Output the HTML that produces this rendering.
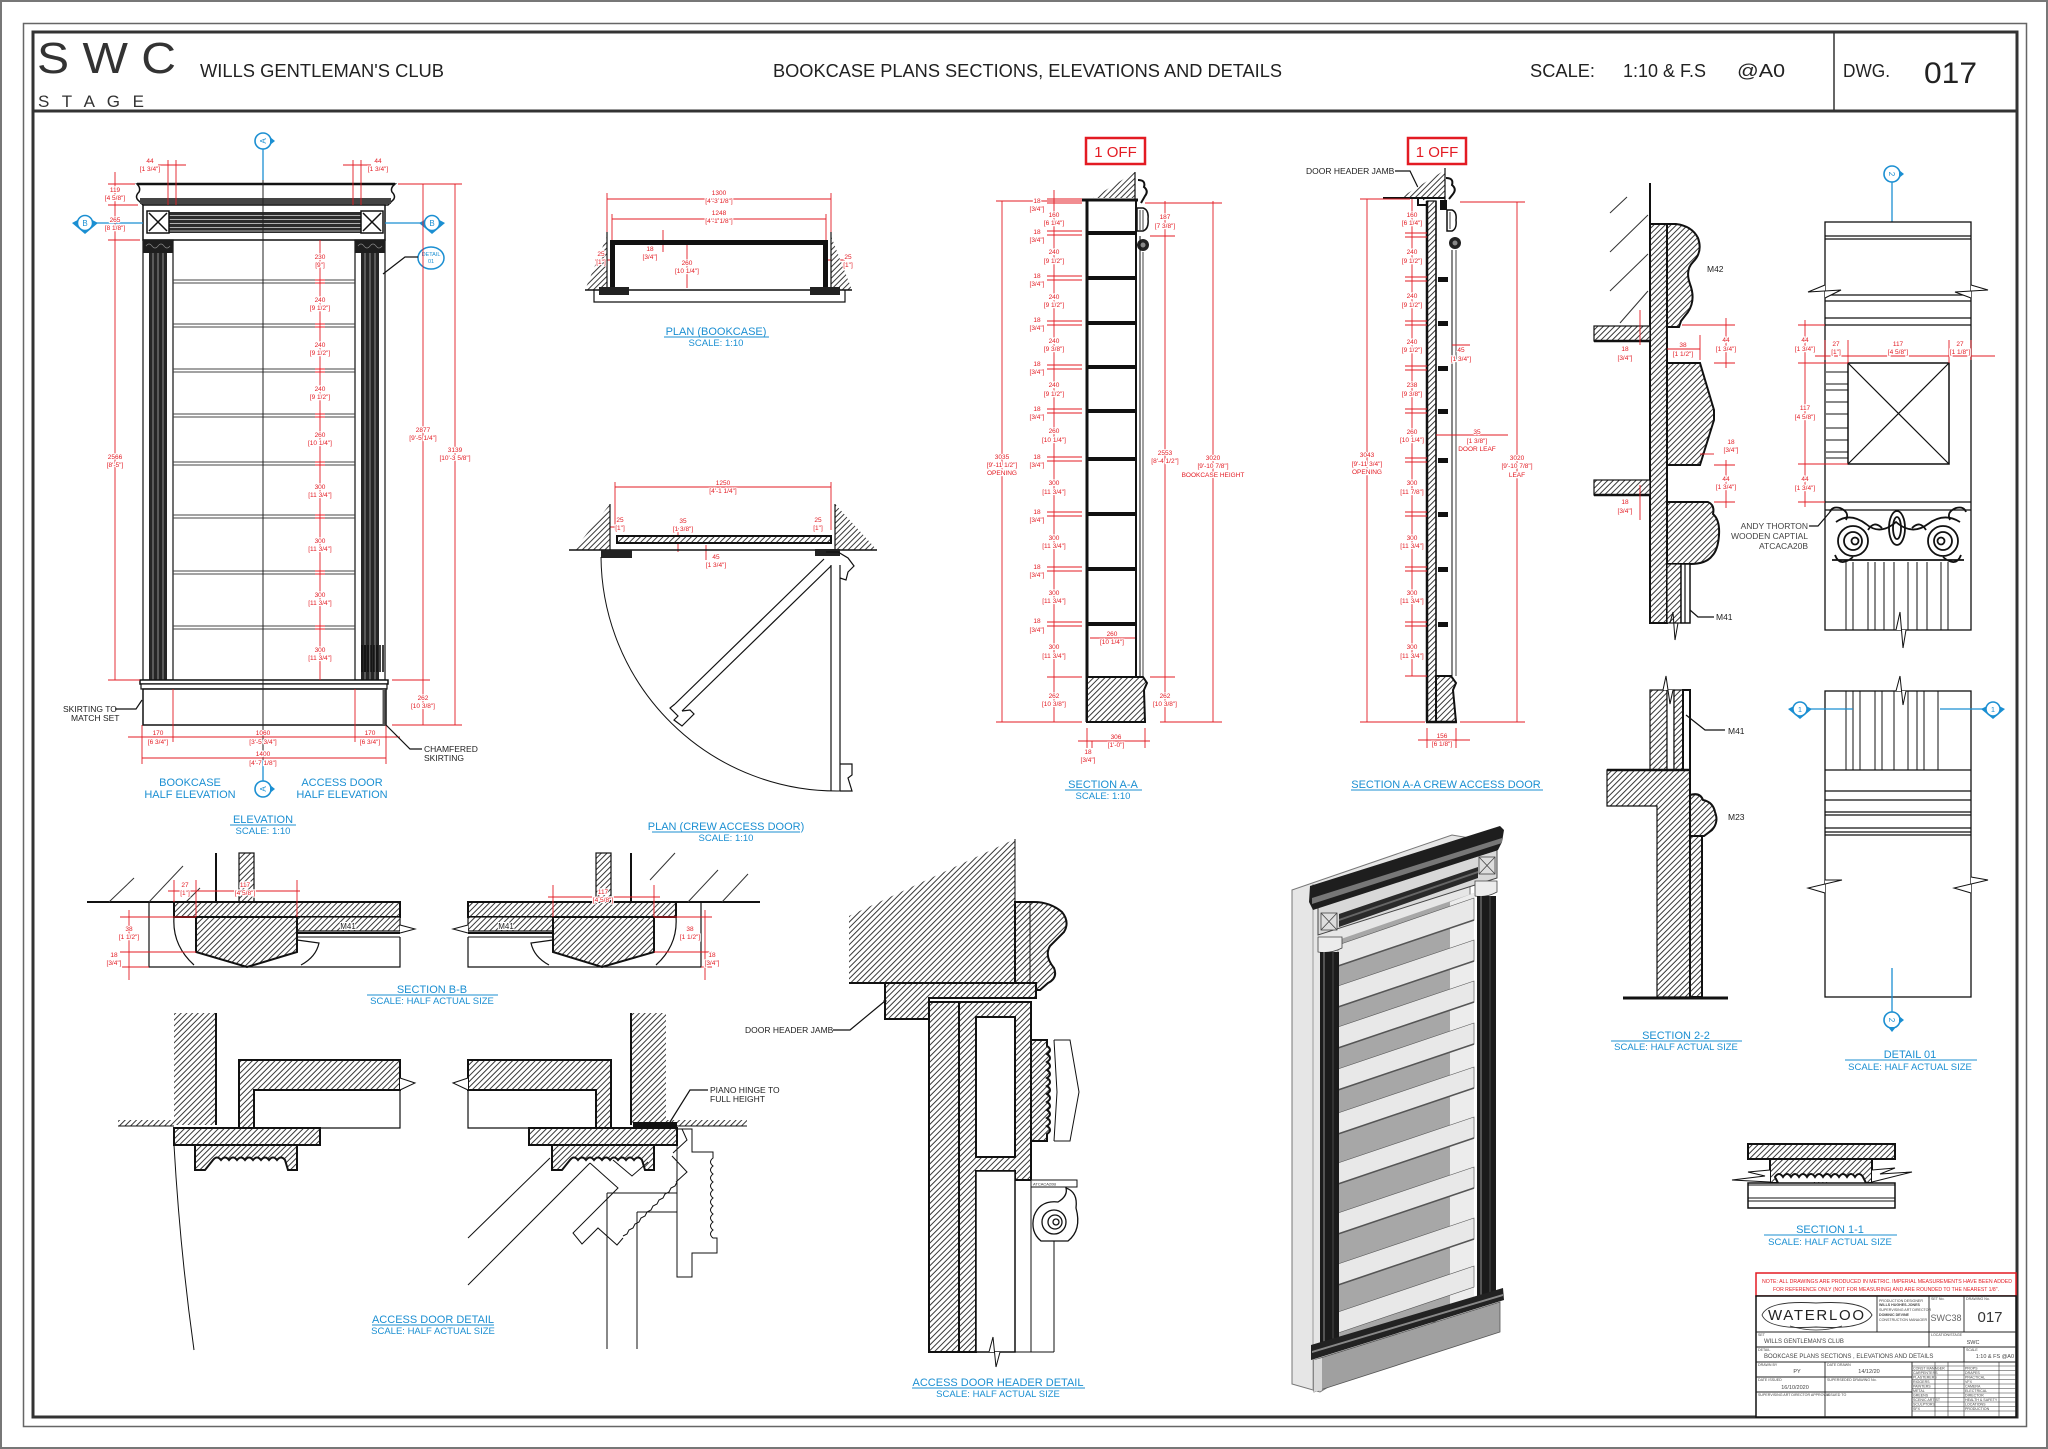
<!DOCTYPE html>
<html><head><meta charset="utf-8">
<style>
html,body{margin:0;padding:0;background:#fff;}
svg{display:block;}
text{font-family:"Liberation Sans",Arial,sans-serif;}
.r{fill:#e31b23;font-size:6.5px;text-anchor:middle;stroke:#fff;stroke-width:2.2px;paint-order:stroke;}
.rl line,.rl path{stroke:#e31b23;stroke-width:0.9;fill:none;}
.b{fill:#1b8fd2;font-size:11px;text-anchor:middle;}
.bs{fill:#1b8fd2;font-size:9.5px;text-anchor:middle;}
.t{fill:#222;font-size:8.5px;}
.hat{fill:url(#h);stroke:#111;stroke-width:2;}
.hat1{fill:url(#h);stroke:#111;stroke-width:1.2;}
.k{stroke:#111;fill:none;stroke-width:1.2;}
.k2{stroke:#111;fill:none;stroke-width:2;}
.bl{stroke:#1b8fd2;stroke-width:1.3;fill:none;}
.ul{stroke:#1b8fd2;stroke-width:1;}
.tb{fill:#444;font-size:3.6px;}
</style></head><body>
<svg width="2048" height="1449" viewBox="0 0 2048 1449" xmlns="http://www.w3.org/2000/svg">
<defs>
<pattern id="h" width="4" height="4" patternUnits="userSpaceOnUse" patternTransform="rotate(45)"><rect width="4" height="4" fill="#fff"/><line x1="0.5" y1="0" x2="0.5" y2="4" stroke="#222" stroke-width="0.9"/></pattern>
<path id="mold" d="M195,1145 H297 V1170 H288 L285,1160 q-4,-5 -8,0 q-4,-5 -8,0 q-4,-5 -8,0 q-4,-5 -8,0 q-4,-5 -8,0 q-4,-5 -8,0 q-4,-5 -8,0 q-4,-5 -8,0 q-4,-5 -8,0 L205,1170 H195 Z"/>
</defs>

<!-- FRAME -->
<rect x="1" y="1" width="2046" height="1447" fill="none" stroke="#777" stroke-width="2"/>
<rect x="23.5" y="23.5" width="2003" height="1403" fill="none" stroke="#666" stroke-width="1.5"/>
<rect x="33" y="32" width="1984" height="1385" fill="none" stroke="#333" stroke-width="3"/>
<line x1="33" y1="111" x2="2017" y2="111" stroke="#333" stroke-width="3"/>
<line x1="1834" y1="32" x2="1834" y2="111" stroke="#333" stroke-width="1.5"/>
<text x="37" y="73" font-size="44" fill="#333" textLength="139" lengthAdjust="spacingAndGlyphs">S W C</text>
<text x="38" y="107" font-size="17" fill="#333" textLength="106" lengthAdjust="spacing">S T A G E</text>
<text x="200" y="77" font-size="18" fill="#222" textLength="244" lengthAdjust="spacingAndGlyphs">WILLS GENTLEMAN'S CLUB</text>
<text x="773" y="77" font-size="18" fill="#222" textLength="509" lengthAdjust="spacingAndGlyphs">BOOKCASE PLANS SECTIONS, ELEVATIONS AND DETAILS</text>
<text x="1530" y="77" font-size="18" fill="#222" textLength="65" lengthAdjust="spacingAndGlyphs">SCALE:</text>
<text x="1623" y="77" font-size="18" fill="#222" textLength="83" lengthAdjust="spacingAndGlyphs">1:10 &amp; F.S</text>
<text x="1737" y="77" font-size="18" fill="#222" textLength="48" lengthAdjust="spacingAndGlyphs">@A0</text>
<text x="1843" y="77" font-size="18" fill="#222" textLength="47" lengthAdjust="spacingAndGlyphs">DWG.</text>
<text x="1924" y="83" font-size="30" fill="#222" textLength="53" lengthAdjust="spacingAndGlyphs">017</text>

<!-- ================= ELEVATION ================= -->
<path d="M137,184 H395 Q390,188 392,192 Q397,197 392,201 L388,205 H143 L139,201 Q134,197 139,192 Q141,188 137,184 Z" fill="#fff" stroke="#111" stroke-width="1.5"/>
<rect x="140" y="198" width="251" height="6" fill="#444"/>
<line x1="137" y1="184" x2="395" y2="184" stroke="#111" stroke-width="2.5"/>
<rect x="143" y="205" width="242" height="35" fill="#fff" stroke="#111" stroke-width="1.5"/>
<rect x="169" y="212" width="192" height="21" fill="#2b2b2b"/>
<g stroke="#ddd" stroke-width="0.7"><line x1="169" y1="215.5" x2="361" y2="215.5"/><line x1="169" y1="219.5" x2="361" y2="219.5"/><line x1="169" y1="223.5" x2="361" y2="223.5"/><line x1="169" y1="227.5" x2="361" y2="227.5"/><line x1="169" y1="231" x2="361" y2="231"/></g>
<rect x="147" y="211" width="22" height="22" fill="#fff" stroke="#111" stroke-width="1.5"/>
<path d="M149,213 L167,231 M167,213 L149,231" stroke="#111" stroke-width="1.5"/>
<rect x="361" y="211" width="22" height="22" fill="#fff" stroke="#111" stroke-width="1.5"/>
<path d="M363,213 L381,231 M381,213 L363,231" stroke="#111" stroke-width="1.5"/>
<!-- pilasters -->
<rect x="143" y="240" width="30" height="440" fill="#fff" stroke="#111" stroke-width="1.2"/>
<rect x="149" y="253" width="18" height="427" fill="#262626"/>
<g stroke="#bbb" stroke-width="0.7"><line x1="153" y1="253" x2="153" y2="680"/><line x1="158" y1="253" x2="158" y2="680"/><line x1="163" y1="253" x2="163" y2="680"/></g>
<rect x="143" y="240" width="30" height="13" fill="#1e1e1e"/>
<path d="M146,246 q3,-4 6,0 q3,4 6,0 q3,-4 6,0 q3,4 6,0" stroke="#888" stroke-width="0.7" fill="none"/>
<rect x="355" y="240" width="30" height="440" fill="#fff" stroke="#111" stroke-width="1.2"/>
<rect x="361" y="253" width="18" height="427" fill="#262626"/>
<g stroke="#bbb" stroke-width="0.7"><line x1="365" y1="253" x2="365" y2="680"/><line x1="370" y1="253" x2="370" y2="680"/><line x1="375" y1="253" x2="375" y2="680"/></g>
<rect x="355" y="240" width="30" height="13" fill="#1e1e1e"/>
<path d="M358,246 q3,-4 6,0 q3,4 6,0 q3,-4 6,0 q3,4 6,0" stroke="#888" stroke-width="0.7" fill="none"/>
<g stroke="#111" stroke-width="1.6"><line x1="362" y1="645" x2="362" y2="672"/><line x1="365" y1="645" x2="365" y2="672"/><line x1="368" y1="645" x2="368" y2="672"/><line x1="371" y1="645" x2="371" y2="672"/><line x1="374" y1="645" x2="374" y2="672"/><line x1="377" y1="645" x2="377" y2="672"/><line x1="380" y1="645" x2="380" y2="672"/><line x1="383" y1="645" x2="383" y2="672"/></g>
<!-- shelves -->
<g stroke="#444" stroke-width="1"><line x1="173" y1="280" x2="355" y2="280"/><line x1="173" y1="283" x2="355" y2="283"/><line x1="173" y1="324" x2="355" y2="324"/><line x1="173" y1="327" x2="355" y2="327"/><line x1="173" y1="369" x2="355" y2="369"/><line x1="173" y1="372" x2="355" y2="372"/><line x1="173" y1="414" x2="355" y2="414"/><line x1="173" y1="417" x2="355" y2="417"/><line x1="173" y1="462" x2="355" y2="462"/><line x1="173" y1="465" x2="355" y2="465"/><line x1="173" y1="515" x2="355" y2="515"/><line x1="173" y1="518" x2="355" y2="518"/><line x1="173" y1="571" x2="355" y2="571"/><line x1="173" y1="574" x2="355" y2="574"/><line x1="173" y1="626" x2="355" y2="626"/><line x1="173" y1="629" x2="355" y2="629"/></g>
<!-- base -->
<rect x="140" y="680" width="248" height="4" fill="#fff" stroke="#111" stroke-width="1.5"/>
<rect x="141" y="684" width="246" height="5" fill="#fff" stroke="#111" stroke-width="1.2"/>
<rect x="143" y="689" width="243" height="36" fill="#fff" stroke="#111" stroke-width="1.5"/>
<line x1="384" y1="689" x2="384" y2="725" stroke="#555" stroke-width="3"/>
<!-- axis -->
<line x1="263" y1="149" x2="263" y2="781" stroke="#222" stroke-width="1"/>
<line x1="263" y1="149" x2="263" y2="180" stroke="#1b8fd2" stroke-width="1.3"/>
<line x1="263" y1="760" x2="263" y2="781" stroke="#1b8fd2" stroke-width="1.3"/>
<g transform="translate(263,141)"><circle r="8" fill="#fff" stroke="#1b8fd2" stroke-width="1.6"/><path d="M7,-4 L12,0 L7,4z" fill="#1b8fd2"/><text y="3" font-size="8" text-anchor="middle" fill="#1b8fd2" transform="rotate(-90)">A</text></g>
<g transform="translate(263,789)"><circle r="8" fill="#fff" stroke="#1b8fd2" stroke-width="1.6"/><path d="M7,-4 L12,0 L7,4z" fill="#1b8fd2"/><text y="3" font-size="8" text-anchor="middle" fill="#1b8fd2" transform="rotate(-90)">A</text></g>
<line x1="93" y1="223" x2="143" y2="223" class="bl"/>
<line x1="385" y1="223" x2="424" y2="223" class="bl"/>
<g transform="translate(85,223)"><path d="M-13,0 L0,-7 L13,0 L0,11 Z" fill="#1b8fd2"/><circle r="7.5" fill="#fff" stroke="#1b8fd2" stroke-width="1.5"/><text y="3" font-size="8" text-anchor="middle" fill="#1b8fd2">B</text></g>
<g transform="translate(432,223)"><path d="M-13,0 L0,-7 L13,0 L0,11 Z" fill="#1b8fd2"/><circle r="7.5" fill="#fff" stroke="#1b8fd2" stroke-width="1.5"/><text y="3" font-size="8" text-anchor="middle" fill="#1b8fd2">B</text></g>
<ellipse cx="431" cy="258" rx="13" ry="11" fill="#fff" stroke="#1b8fd2" stroke-width="1.5"/>
<text x="431" y="256" font-size="5.5" text-anchor="middle" fill="#1b8fd2">DETAIL</text>
<text x="431" y="263" font-size="5.5" text-anchor="middle" fill="#1b8fd2">01</text>
<path d="M383,274 L405,257 L418,257" class="k"/>
<g class="rl">
<line x1="168" y1="160" x2="168" y2="205"/><line x1="176" y1="160" x2="176" y2="205"/><line x1="158" y1="165" x2="186" y2="165"/>
<line x1="353" y1="160" x2="353" y2="205"/><line x1="361" y1="160" x2="361" y2="205"/><line x1="343" y1="165" x2="371" y2="165"/>
<line x1="115" y1="172" x2="115" y2="680"/><line x1="108" y1="184" x2="135" y2="184"/><line x1="108" y1="205" x2="138" y2="205"/><line x1="108" y1="240" x2="140" y2="240"/><line x1="108" y1="680" x2="140" y2="680"/>
<line x1="398" y1="184" x2="462" y2="184"/><line x1="423" y1="184" x2="423" y2="725"/><line x1="455" y1="184" x2="455" y2="725"/><line x1="392" y1="680" x2="430" y2="680"/><line x1="392" y1="725" x2="462" y2="725"/>
<line x1="320" y1="240" x2="320" y2="680"/>
<path d="M315,280h10M315,283h10M315,324h10M315,327h10M315,369h10M315,372h10M315,414h10M315,417h10M315,462h10M315,465h10M315,515h10M315,518h10M315,571h10M315,574h10M315,626h10M315,629h10"/>
<line x1="142" y1="725" x2="142" y2="764"/><line x1="386" y1="725" x2="386" y2="764"/><line x1="173" y1="689" x2="173" y2="742"/><line x1="355" y1="689" x2="355" y2="742"/>
<line x1="128" y1="737" x2="400" y2="737"/><line x1="142" y1="758" x2="386" y2="758"/>
</g>
<g class="r">
<text x="150" y="163">44</text><text x="150" y="171">[1 3/4"]</text>
<text x="378" y="163">44</text><text x="378" y="171">[1 3/4"]</text>
<text x="115" y="192">119</text><text x="115" y="200">[4 5/8"]</text>
<text x="115" y="222">265</text><text x="115" y="230">[8 1/8"]</text>
<text x="115" y="459">2566</text><text x="115" y="467">[8'-5"]</text>
<text x="423" y="432">2877</text><text x="423" y="440">[9'-5 1/4"]</text>
<text x="455" y="452">3139</text><text x="455" y="460">[10'-3 5/8"]</text>
<text x="423" y="700">262</text><text x="423" y="708">[10 3/8"]</text>
<text x="320" y="259">230</text><text x="320" y="267">[9"]</text>
<text x="320" y="302">240</text><text x="320" y="310">[9 1/2"]</text>
<text x="320" y="347">240</text><text x="320" y="355">[9 1/2"]</text>
<text x="320" y="391">240</text><text x="320" y="399">[9 1/2"]</text>
<text x="320" y="437">260</text><text x="320" y="445">[10 1/4"]</text>
<text x="320" y="489">300</text><text x="320" y="497">[11 3/4"]</text>
<text x="320" y="543">300</text><text x="320" y="551">[11 3/4"]</text>
<text x="320" y="597">300</text><text x="320" y="605">[11 3/4"]</text>
<text x="320" y="652">300</text><text x="320" y="660">[11 3/4"]</text>
<text x="158" y="735">170</text><text x="158" y="744">[6 3/4"]</text>
<text x="263" y="735">1060</text><text x="263" y="744">[3'-5 3/4"]</text>
<text x="370" y="735">170</text><text x="370" y="744">[6 3/4"]</text>
<text x="263" y="756">1400</text><text x="263" y="765">[4'-7 1/8"]</text>
</g>
<text class="t" x="63" y="712">SKIRTING TO</text><text class="t" x="71" y="721">MATCH SET</text>
<path d="M115,709 L136,709 L142,700" class="k"/>
<text class="t" x="424" y="752">CHAMFERED</text><text class="t" x="424" y="761">SKIRTING</text>
<path d="M386,725 L410,749 L422,749" class="k"/>
<text class="b" x="190" y="786">BOOKCASE</text><text class="b" x="190" y="798">HALF ELEVATION</text>
<text class="b" x="342" y="786">ACCESS DOOR</text><text class="b" x="342" y="798">HALF ELEVATION</text>
<text class="b" x="263" y="823">ELEVATION</text><line x1="230" y1="825" x2="296" y2="825" class="ul"/>
<text class="bs" x="263" y="834">SCALE: 1:10</text>

<!-- ================= PLAN (BOOKCASE) ================= -->
<g class="rl">
<line x1="607" y1="199" x2="831" y2="199"/><line x1="612" y1="219" x2="826" y2="219"/>
<line x1="607" y1="193" x2="607" y2="236"/><line x1="831" y1="193" x2="831" y2="236"/>
<line x1="612" y1="214" x2="612" y2="240"/><line x1="826" y1="214" x2="826" y2="240"/>
<line x1="663" y1="230" x2="663" y2="252"/><line x1="687" y1="245" x2="687" y2="288"/>
<line x1="595" y1="260" x2="612" y2="260"/><line x1="826" y1="260" x2="845" y2="260"/>
</g>
<polygon points="585,290 607,290 607,236" fill="url(#h)"/>
<polygon points="831,236 831,290 852,290" fill="url(#h)"/>
<line x1="607" y1="232" x2="607" y2="290" class="k"/><line x1="831" y1="232" x2="831" y2="290" class="k"/>
<path d="M612.5,290 V242.5 H825.5 V290" fill="none" stroke="#111" stroke-width="5"/>
<line x1="585" y1="290" x2="852" y2="290" stroke="#111" stroke-width="1.5"/>
<rect x="599" y="287" width="30" height="8" fill="#222"/><rect x="810" y="287" width="30" height="8" fill="#222"/>
<path d="M594,290 V302 H845 V290" class="k"/>
<g class="r">
<text x="719" y="195">1300</text><text x="719" y="203">[4'-3 1/8"]</text>
<text x="719" y="215">1248</text><text x="719" y="223">[4'-1 1/8"]</text>
<text x="650" y="251">18</text><text x="650" y="259">[3/4"]</text>
<text x="687" y="265">260</text><text x="687" y="273">[10 1/4"]</text>
<text x="601" y="256">25</text><text x="601" y="264">[1"]</text>
<text x="848" y="259">25</text><text x="848" y="267">[1"]</text>
</g>
<text class="b" x="716" y="335">PLAN (BOOKCASE)</text><line x1="664" y1="337" x2="769" y2="337" class="ul"/>
<text class="bs" x="716" y="346">SCALE: 1:10</text>

<!-- ================= PLAN (CREW ACCESS DOOR) ================= -->
<g class="rl">
<line x1="615" y1="487" x2="831" y2="487"/><line x1="615" y1="482" x2="615" y2="530"/><line x1="831" y1="482" x2="831" y2="530"/>
<line x1="598" y1="527" x2="615" y2="527"/><line x1="835" y1="527" x2="852" y2="527"/>
<line x1="678" y1="528" x2="678" y2="552"/><line x1="706" y1="545" x2="706" y2="560"/>
</g>
<polygon points="574,550 610,550 610,504" fill="url(#h)"/>
<polygon points="835,504 835,550 877,550" fill="url(#h)"/>
<line x1="610" y1="504" x2="610" y2="550" class="k"/><line x1="835" y1="504" x2="835" y2="550" class="k"/>
<line x1="569" y1="550" x2="877" y2="550" stroke="#111" stroke-width="1.5"/>
<rect x="617" y="536" width="214" height="7" class="hat"/>
<rect x="601" y="550" width="31" height="8" fill="#222"/><rect x="815" y="549" width="25" height="7" fill="#222"/>
<path d="M601,557 A236,236 0 0 0 840,791" fill="none" stroke="#111" stroke-width="1"/>
<line x1="824" y1="559" x2="675" y2="704" class="k"/><line x1="831" y1="566" x2="682" y2="711" class="k"/>
<path d="M675,704 L670,708 L678,716 L674,720 L682,726 L694,714 L690,710 L682,711" class="k"/>
<line x1="831" y1="565" x2="831" y2="791" class="k"/><line x1="840" y1="565" x2="840" y2="791" class="k"/>
<path d="M826,552 L838,552 L848,558 L854,566 L848,572 L846,580 L840,578 M840,764 L852,764 L852,775 L848,778 L852,791 L840,791" class="k"/>
<g class="r">
<text x="723" y="485">1250</text><text x="723" y="493">[4'-1 1/4"]</text>
<text x="620" y="522">25</text><text x="620" y="530">[1"]</text>
<text x="683" y="523">35</text><text x="683" y="531">[1 3/8"]</text>
<text x="818" y="522">25</text><text x="818" y="530">[1"]</text>
<text x="716" y="559">45</text><text x="716" y="567">[1 3/4"]</text>
</g>
<text class="b" x="726" y="830">PLAN (CREW ACCESS DOOR)</text><line x1="652" y1="832" x2="800" y2="832" class="ul"/>
<text class="bs" x="726" y="841">SCALE: 1:10</text>

<!-- ================= SECTION A-A ================= -->
<rect x="1086" y="138" width="59" height="26" fill="none" stroke="#e31b23" stroke-width="2.5"/>
<text x="1115.5" y="157" font-size="15" text-anchor="middle" fill="#e31b23">1 OFF</text>
<polygon points="1093,198 1135,198 1135,172" fill="url(#h)"/>
<line x1="1135" y1="172" x2="1135" y2="199" class="k"/>
<path d="M1138,180 Q1146,180 1144,187 Q1149,191 1145,196 L1141,203" fill="none" stroke="#111" stroke-width="2"/>
<path d="M1137,208 H1143 Q1149,210 1148,219 Q1149,229 1143,231 H1137 Z" fill="#fff" stroke="#111" stroke-width="1.5"/>
<g stroke="#111" stroke-width="0.8"><line x1="1140" y1="210" x2="1140" y2="230"/><line x1="1143" y1="210" x2="1143" y2="230"/></g>
<circle cx="1143" cy="245" r="6" fill="#222"/><circle cx="1143" cy="245" r="2.5" fill="#888"/>
<line x1="1087" y1="201" x2="1087" y2="722" stroke="#111" stroke-width="3"/>
<line x1="1136" y1="201" x2="1136" y2="677" stroke="#111" stroke-width="2"/>
<line x1="1140" y1="236" x2="1140" y2="677" stroke="#111" stroke-width="1"/>
<line x1="1143" y1="252" x2="1143" y2="677" stroke="#111" stroke-width="0.8"/>
<line x1="1082" y1="200" x2="1138" y2="200" stroke="#111" stroke-width="3"/>
<g stroke="#111" stroke-width="4"><line x1="1087" y1="233" x2="1136" y2="233"/><line x1="1087" y1="278" x2="1136" y2="278"/><line x1="1087" y1="323" x2="1136" y2="323"/><line x1="1087" y1="367" x2="1136" y2="367"/><line x1="1087" y1="411" x2="1136" y2="411"/><line x1="1087" y1="459" x2="1136" y2="459"/><line x1="1087" y1="514" x2="1136" y2="514"/><line x1="1087" y1="569" x2="1136" y2="569"/><line x1="1087" y1="624" x2="1136" y2="624"/></g>
<path class="hat" d="M1087,677 H1143 L1147,683 L1144,690 L1145,722 H1087 Z"/>
<g class="rl">
<line x1="1002" y1="201" x2="1002" y2="722"/><line x1="996" y1="201" x2="1082" y2="201"/><line x1="996" y1="722" x2="1082" y2="722"/>
<line x1="1054" y1="190" x2="1054" y2="722"/>
<path d="M1047,199h35M1047,203h35M1047,231h35M1047,235h35M1047,276h35M1047,280h35M1047,321h35M1047,325h35M1047,365h35M1047,369h35M1047,409h35M1047,413h35M1047,457h35M1047,461h35M1047,512h35M1047,516h35M1047,567h35M1047,571h35M1047,622h35M1047,626h35M1047,677h35"/>
<line x1="1165" y1="201" x2="1165" y2="677"/><line x1="1145" y1="203" x2="1175" y2="203"/><line x1="1150" y1="236" x2="1175" y2="236"/><line x1="1150" y1="677" x2="1175" y2="677"/>
<line x1="1165" y1="677" x2="1165" y2="722"/>
<line x1="1213" y1="201" x2="1213" y2="722"/><line x1="1175" y1="203" x2="1222" y2="203"/><line x1="1160" y1="722" x2="1222" y2="722"/>
<line x1="1087" y1="728" x2="1087" y2="748"/><line x1="1145" y1="728" x2="1145" y2="748"/><line x1="1078" y1="741" x2="1150" y2="741"/><line x1="1092" y1="741" x2="1092" y2="748"/>
<line x1="1090" y1="638" x2="1135" y2="638"/>
</g>
<g class="r">
<text x="1002" y="459">3035</text><text x="1002" y="467">[9'-11 1/2"]</text><text x="1002" y="475">OPENING</text>
<text x="1037" y="203">18</text><text x="1037" y="211">[3/4"]</text>
<text x="1054" y="217">160</text><text x="1054" y="225">[6 1/4"]</text>
<text x="1037" y="234">18</text><text x="1037" y="242">[3/4"]</text>
<text x="1054" y="254">240</text><text x="1054" y="263">[9 1/2"]</text>
<text x="1037" y="278">18</text><text x="1037" y="286">[3/4"]</text>
<text x="1054" y="299">240</text><text x="1054" y="307">[9 1/2"]</text>
<text x="1037" y="322">18</text><text x="1037" y="330">[3/4"]</text>
<text x="1054" y="343">240</text><text x="1054" y="351">[9 3/8"]</text>
<text x="1037" y="366">18</text><text x="1037" y="374">[3/4"]</text>
<text x="1054" y="387">240</text><text x="1054" y="396">[9 1/2"]</text>
<text x="1037" y="411">18</text><text x="1037" y="419">[3/4"]</text>
<text x="1054" y="433">260</text><text x="1054" y="442">[10 1/4"]</text>
<text x="1037" y="459">18</text><text x="1037" y="467">[3/4"]</text>
<text x="1054" y="485">300</text><text x="1054" y="494">[11 3/4"]</text>
<text x="1037" y="514">18</text><text x="1037" y="522">[3/4"]</text>
<text x="1054" y="540">300</text><text x="1054" y="548">[11 3/4"]</text>
<text x="1037" y="569">18</text><text x="1037" y="577">[3/4"]</text>
<text x="1054" y="595">300</text><text x="1054" y="603">[11 3/4"]</text>
<text x="1037" y="623">18</text><text x="1037" y="632">[3/4"]</text>
<text x="1054" y="649">300</text><text x="1054" y="658">[11 3/4"]</text>
<text x="1054" y="698">262</text><text x="1054" y="706">[10 3/8"]</text>
<text x="1165" y="219">187</text><text x="1165" y="228">[7 3/8"]</text>
<text x="1165" y="455">2553</text><text x="1165" y="463">[8'-4 1/2"]</text>
<text x="1165" y="698">262</text><text x="1165" y="706">[10 3/8"]</text>
<text x="1213" y="460">3020</text><text x="1213" y="468">[9'-10 7/8"]</text><text x="1213" y="477">BOOKCASE  HEIGHT</text>
<text x="1116" y="739">306</text><text x="1116" y="747">[1'-0"]</text>
<text x="1088" y="754">18</text><text x="1088" y="762">[3/4"]</text>
<text x="1112" y="636">260</text><text x="1112" y="644">[10 1/4"]</text>
</g>
<text class="b" x="1103" y="788">SECTION A-A</text><line x1="1065" y1="790" x2="1142" y2="790" class="ul"/>
<text class="bs" x="1103" y="799">SCALE: 1:10</text>

<!-- ================= SECTION A-A CREW ACCESS DOOR ================= -->
<rect x="1408" y="138" width="58" height="26" fill="none" stroke="#e31b23" stroke-width="2.5"/>
<text x="1437" y="157" font-size="15" text-anchor="middle" fill="#e31b23">1 OFF</text>
<text class="t" x="1306" y="174">DOOR HEADER JAMB</text>
<path d="M1395,171 L1410,171 L1424,200" class="k"/>
<polygon points="1400,198 1445,198 1445,170" fill="url(#h)"/>
<line x1="1445" y1="168" x2="1445" y2="200" class="k"/>
<line x1="1383" y1="198" x2="1445" y2="198" stroke="#111" stroke-width="2"/>
<path d="M1418,198 V205 H1428" fill="none" stroke="#111" stroke-width="2"/>
<path d="M1446,178 Q1454,178 1452,185 Q1457,189 1453,194 L1449,199" fill="none" stroke="#111" stroke-width="2"/>
<rect x="1440" y="200" width="7" height="10" fill="#111"/>
<path d="M1447,210 H1452 Q1457,212 1456,220 Q1457,229 1452,231 H1447 Z" fill="#fff" stroke="#111" stroke-width="1.5"/>
<line x1="1450" y1="212" x2="1450" y2="229" stroke="#111" stroke-width="0.8"/>
<circle cx="1455" cy="243" r="6" fill="#222"/><circle cx="1455" cy="243" r="2.5" fill="#888"/>
<rect x="1427" y="201" width="9" height="521" class="hat1"/>
<line x1="1427" y1="201" x2="1427" y2="722" stroke="#111" stroke-width="2.5"/>
<line x1="1436" y1="201" x2="1436" y2="676" stroke="#111" stroke-width="1.5"/>
<line x1="1452" y1="250" x2="1452" y2="676" stroke="#111" stroke-width="1"/>
<line x1="1456" y1="250" x2="1456" y2="676" stroke="#111" stroke-width="0.8"/>
<g fill="#111"><rect x="1438" y="277" width="10" height="5"/><rect x="1438" y="321" width="10" height="5"/><rect x="1438" y="366" width="10" height="5"/><rect x="1438" y="409" width="10" height="5"/><rect x="1438" y="458" width="10" height="5"/><rect x="1438" y="512" width="10" height="5"/><rect x="1438" y="567" width="10" height="5"/><rect x="1438" y="622" width="10" height="5"/></g>
<path class="hat" d="M1436,676 H1451 L1456,683 L1453,690 L1456,722 H1436 Z"/>
<line x1="1426" y1="722" x2="1457" y2="722" stroke="#111" stroke-width="2.5"/>
<g class="rl">
<line x1="1367" y1="199" x2="1367" y2="722"/><line x1="1360" y1="199" x2="1410" y2="199"/><line x1="1360" y1="722" x2="1425" y2="722"/>
<line x1="1412" y1="199" x2="1412" y2="676"/>
<path d="M1405,233h22M1405,237h22M1405,277h22M1405,281h22M1405,321h22M1405,325h22M1405,366h22M1405,370h22M1405,409h22M1405,413h22M1405,458h22M1405,462h22M1405,512h22M1405,516h22M1405,567h22M1405,571h22M1405,622h22M1405,626h22M1405,676h22"/>
<line x1="1517" y1="202" x2="1517" y2="722"/><line x1="1460" y1="202" x2="1525" y2="202"/><line x1="1460" y1="722" x2="1525" y2="722"/>
<line x1="1436" y1="435" x2="1508" y2="435"/>
<line x1="1452" y1="345" x2="1470" y2="345"/>
<line x1="1427" y1="728" x2="1427" y2="748"/><line x1="1456" y1="728" x2="1456" y2="748"/><line x1="1418" y1="740" x2="1470" y2="740"/>
</g>
<g class="r">
<text x="1367" y="457">3043</text><text x="1367" y="466">[9'-11 3/4"]</text><text x="1367" y="474">OPENING</text>
<text x="1412" y="217">160</text><text x="1412" y="225">[6 1/4"]</text>
<text x="1412" y="254">240</text><text x="1412" y="263">[9 1/2"]</text>
<text x="1412" y="298">240</text><text x="1412" y="307">[9 1/2"]</text>
<text x="1412" y="344">240</text><text x="1412" y="352">[9 1/2"]</text>
<text x="1412" y="387">238</text><text x="1412" y="396">[9 3/8"]</text>
<text x="1412" y="434">260</text><text x="1412" y="442">[10 1/4"]</text>
<text x="1412" y="485">300</text><text x="1412" y="494">[11 7/8"]</text>
<text x="1412" y="540">300</text><text x="1412" y="548">[11 3/4"]</text>
<text x="1412" y="595">300</text><text x="1412" y="603">[11 3/4"]</text>
<text x="1412" y="649">300</text><text x="1412" y="658">[11 3/4"]</text>
<text x="1517" y="460">3020</text><text x="1517" y="468">[9'-10 7/8"]</text><text x="1517" y="477">LEAF</text>
<text x="1461" y="352">45</text><text x="1461" y="361">[1 3/4"]</text>
<text x="1477" y="434">35</text><text x="1477" y="443">[1 3/8"]</text><text x="1477" y="451">DOOR  LEAF</text>
<text x="1442" y="738">156</text><text x="1442" y="746">[6 1/8"]</text>
</g>
<text class="b" x="1446" y="788">SECTION A-A CREW ACCESS DOOR</text><line x1="1351" y1="790" x2="1543" y2="790" class="ul"/>

<!-- ================= SECTION M42 ================= -->
<g stroke="#333" stroke-width="1"><line x1="1610" y1="213" x2="1627" y2="197"/><line x1="1610" y1="252" x2="1648" y2="215"/><line x1="1610" y1="291" x2="1648" y2="254"/><line x1="1620" y1="323" x2="1648" y2="291"/></g>
<line x1="1650" y1="183" x2="1650" y2="623" stroke="#111" stroke-width="2"/>
<rect x="1650" y="224" width="17" height="399" class="hat"/>
<path class="hat" d="M1667,224 H1676 Q1692,226 1698,238 Q1703,252 1693,262 Q1685,270 1690,284 Q1696,300 1688,312 L1681,321 L1679,327 H1667 Z"/>
<rect x="1594" y="326" width="56" height="15" class="hat1"/><line x1="1594" y1="341" x2="1650" y2="341" stroke="#111" stroke-width="2.5"/>
<rect x="1594" y="480" width="56" height="15" class="hat1"/><line x1="1594" y1="495" x2="1650" y2="495" stroke="#111" stroke-width="2.5"/>
<path class="hat" d="M1667,363 H1700 L1714,410 L1714,420 L1700,465 H1667 Z"/>
<path class="hat" d="M1667,502 H1708 Q1715,505 1713,514 Q1720,520 1719,535 Q1718,550 1712,556 Q1706,564 1690,564 H1667 Z"/>
<rect x="1667" y="564" width="14" height="59" class="hat1"/>
<rect x="1681" y="564" width="9" height="59" fill="#fff" stroke="#111" stroke-width="1.5"/>
<line x1="1685" y1="564" x2="1685" y2="623" stroke="#111" stroke-width="1.2"/>
<path d="M1650,623 H1670 L1673,612 L1675,640 L1678,623 H1690" fill="none" stroke="#111" stroke-width="1"/>
<text class="t" x="1707" y="272">M42</text>
<text class="t" x="1716" y="620">M41</text><path d="M1690,610 L1698,617 L1714,617" class="k"/>
<g class="rl">
<line x1="1640" y1="310" x2="1640" y2="345"/><line x1="1640" y1="485" x2="1640" y2="520"/>
<line x1="1667" y1="349" x2="1700" y2="349"/><line x1="1700" y1="335" x2="1700" y2="360"/>
<line x1="1682" y1="325" x2="1735" y2="325"/><line x1="1714" y1="363" x2="1735" y2="363"/><line x1="1726" y1="318" x2="1726" y2="368"/>
<line x1="1700" y1="454" x2="1714" y2="454"/>
<line x1="1714" y1="465" x2="1735" y2="465"/><line x1="1714" y1="502" x2="1735" y2="502"/><line x1="1726" y1="460" x2="1726" y2="508"/>
</g>
<g class="r">
<text x="1625" y="351">18</text><text x="1625" y="360">[3/4"]</text>
<text x="1683" y="347">38</text><text x="1683" y="356">[1 1/2"]</text>
<text x="1726" y="342">44</text><text x="1726" y="351">[1 3/4"]</text>
<text x="1731" y="444">18</text><text x="1731" y="452">[3/4"]</text>
<text x="1726" y="481">44</text><text x="1726" y="489">[1 3/4"]</text>
<text x="1625" y="504">18</text><text x="1625" y="513">[3/4"]</text>
</g>

<!-- ================= DETAIL 01 (upper) ================= -->
<line x1="1892" y1="182" x2="1892" y2="225" class="bl"/>
<g transform="translate(1892,174)"><circle r="8" fill="#fff" stroke="#1b8fd2" stroke-width="1.6"/><path d="M7,-4 L12,0 L7,4z" fill="#1b8fd2"/><text y="3" font-size="8" text-anchor="middle" fill="#1b8fd2" transform="rotate(90)">2</text></g>
<rect x="1825" y="222" width="146" height="408" fill="#fff" stroke="#111" stroke-width="1.3"/>
<g stroke="#111" stroke-width="1.2"><line x1="1825" y1="236" x2="1971" y2="236"/><line x1="1825" y1="239" x2="1971" y2="239"/><line x1="1825" y1="295" x2="1971" y2="295"/><line x1="1825" y1="301" x2="1971" y2="301"/><line x1="1825" y1="318" x2="1971" y2="318"/><line x1="1825" y1="325" x2="1971" y2="325"/><line x1="1825" y1="502" x2="1971" y2="502"/><line x1="1825" y1="510" x2="1971" y2="510"/></g>
<path d="M1825,285 L1808,292 L1841,290 L1825,298" fill="#fff" stroke="#111" stroke-width="1"/>
<path d="M1971,285 L1988,290 L1955,292 L1971,298" fill="#fff" stroke="#111" stroke-width="1"/>
<rect x="1848" y="363" width="101" height="101" fill="#fff" stroke="#111" stroke-width="1.5"/>
<path d="M1848,363 L1949,464 M1949,363 L1848,464" stroke="#111" stroke-width="1.2"/>
<g stroke="#111" stroke-width="0.9"><line x1="1826" y1="372" x2="1848" y2="372"/><line x1="1826" y1="384" x2="1848" y2="384"/><line x1="1826" y1="390" x2="1848" y2="390"/><line x1="1826" y1="402" x2="1848" y2="402"/><line x1="1826" y1="414" x2="1848" y2="414"/><line x1="1826" y1="428" x2="1848" y2="428"/><line x1="1826" y1="440" x2="1848" y2="440"/><line x1="1826" y1="452" x2="1848" y2="452"/><line x1="1826" y1="458" x2="1848" y2="458"/></g>
<!-- capital -->
<g fill="none" stroke="#111" stroke-width="1.8">
<path d="M1830,512 Q1832,506 1840,508 Q1850,512 1846,520"/>
<path d="M1966,512 Q1964,506 1956,508 Q1946,512 1950,520"/>
<circle cx="1853" cy="541" r="15"/><circle cx="1853" cy="541" r="9"/><circle cx="1855" cy="541" r="3.5"/>
<circle cx="1943" cy="541" r="15"/><circle cx="1943" cy="541" r="9"/><circle cx="1941" cy="541" r="3.5"/>
<path d="M1836,522 Q1850,512 1866,524 Q1880,536 1896,522 Q1912,536 1928,524 Q1944,512 1960,522"/>
<ellipse cx="1897" cy="528" rx="8" ry="17"/><ellipse cx="1897" cy="528" rx="4" ry="11"/>
<path d="M1832,560 H1964 M1835,555 Q1840,568 1853,557 M1961,555 Q1956,568 1943,557"/>
<path d="M1868,530 Q1874,520 1882,528 M1926,530 Q1920,520 1912,528"/>
</g>
<g stroke="#111" stroke-width="1"><line x1="1846" y1="562" x2="1846" y2="630"/><line x1="1853" y1="562" x2="1853" y2="630"/><line x1="1868" y1="562" x2="1868" y2="630"/><line x1="1875" y1="562" x2="1875" y2="630"/><line x1="1884" y1="562" x2="1884" y2="630"/><line x1="1894" y1="562" x2="1894" y2="630"/><line x1="1908" y1="562" x2="1908" y2="630"/><line x1="1917" y1="562" x2="1917" y2="630"/><line x1="1927" y1="562" x2="1927" y2="630"/><line x1="1941" y1="562" x2="1941" y2="630"/><line x1="1948" y1="562" x2="1948" y2="630"/></g>
<path d="M1896,630 L1900,612 L1903,648 L1906,630" fill="#fff" stroke="#111" stroke-width="1"/>
<text x="1808" y="529" font-size="8.5" fill="#444" text-anchor="end">ANDY THORTON</text>
<text x="1808" y="539" font-size="8.5" fill="#444" text-anchor="end">WOODEN CAPTIAL</text>
<text x="1808" y="549" font-size="8.5" fill="#444" text-anchor="end">ATCACA20B</text>
<path d="M1809,526 L1818,526 L1830,512" class="k" stroke-width="0.8"/>
<g class="rl">
<line x1="1805" y1="320" x2="1805" y2="507"/>
<line x1="1798" y1="325" x2="1825" y2="325"/><line x1="1798" y1="363" x2="1848" y2="363"/><line x1="1798" y1="464" x2="1848" y2="464"/><line x1="1798" y1="502" x2="1825" y2="502"/>
<line x1="1815" y1="356" x2="1995" y2="356"/>
<line x1="1848" y1="340" x2="1848" y2="363"/><line x1="1949" y1="340" x2="1949" y2="363"/><line x1="1971" y1="340" x2="1971" y2="360"/><line x1="1825" y1="340" x2="1825" y2="360"/>
</g>
<g class="r">
<text x="1805" y="342">44</text><text x="1805" y="351">[1 3/4"]</text>
<text x="1836" y="346">27</text><text x="1836" y="354">[1"]</text>
<text x="1898" y="346">117</text><text x="1898" y="354">[4 5/8"]</text>
<text x="1960" y="346">27</text><text x="1960" y="354">[1 1/8"]</text>
<text x="1805" y="410">117</text><text x="1805" y="419">[4 5/8"]</text>
<text x="1805" y="481">44</text><text x="1805" y="490">[1 3/4"]</text>
</g>

<!-- ================= DETAIL 01 (lower) ================= -->
<rect x="1825" y="691" width="146" height="306" fill="#fff" stroke="#111" stroke-width="1.3"/>
<path d="M1896,691 L1900,676 L1903,705 L1906,691" fill="#fff" stroke="#111" stroke-width="1"/>
<g stroke="#111" stroke-width="1"><line x1="1846" y1="691" x2="1846" y2="770"/><line x1="1853" y1="691" x2="1853" y2="770"/><line x1="1860" y1="691" x2="1860" y2="770"/><line x1="1875" y1="691" x2="1875" y2="770"/><line x1="1882" y1="691" x2="1882" y2="770"/><line x1="1894" y1="691" x2="1894" y2="770"/><line x1="1908" y1="691" x2="1908" y2="770"/><line x1="1917" y1="691" x2="1917" y2="770"/><line x1="1924" y1="691" x2="1924" y2="770"/><line x1="1938" y1="691" x2="1938" y2="770"/></g>
<g stroke="#111" stroke-width="1.3"><line x1="1825" y1="770" x2="1971" y2="770"/><line x1="1825" y1="791" x2="1971" y2="791"/><line x1="1825" y1="800" x2="1971" y2="800"/><line x1="1825" y1="812" x2="1971" y2="812"/><line x1="1825" y1="815" x2="1971" y2="815"/><line x1="1825" y1="828" x2="1971" y2="828"/><line x1="1825" y1="832" x2="1971" y2="832"/><line x1="1825" y1="835" x2="1971" y2="835"/></g>
<path d="M1825,880 L1842,880 L1808,888 L1825,893" fill="#fff" stroke="#111" stroke-width="1"/>
<path d="M1971,877 L1988,880 L1954,888 L1971,893" fill="#fff" stroke="#111" stroke-width="1"/>
<line x1="1808" y1="709" x2="1853" y2="709" class="bl"/><line x1="1940" y1="709" x2="1985" y2="709" class="bl"/>
<g transform="translate(1800,709)"><path d="M-12,0 L0,-6 L12,0 L0,10 Z" fill="#1b8fd2"/><circle r="7" fill="#fff" stroke="#1b8fd2" stroke-width="1.5"/><text y="3" font-size="7.5" text-anchor="middle" fill="#1b8fd2">1</text></g>
<g transform="translate(1993,709)"><path d="M-12,0 L0,-6 L12,0 L0,10 Z" fill="#1b8fd2"/><circle r="7" fill="#fff" stroke="#1b8fd2" stroke-width="1.5"/><text y="3" font-size="7.5" text-anchor="middle" fill="#1b8fd2">1</text></g>
<line x1="1892" y1="968" x2="1892" y2="1012" class="bl"/>
<g transform="translate(1892,1020)"><circle r="8" fill="#fff" stroke="#1b8fd2" stroke-width="1.6"/><path d="M7,-4 L12,0 L7,4z" fill="#1b8fd2"/><path d="M-4,7 L0,12 L4,7z" fill="#1b8fd2"/><text y="3" font-size="8" text-anchor="middle" fill="#1b8fd2" transform="rotate(90)">2</text></g>
<text class="b" x="1910" y="1058">DETAIL 01</text><line x1="1845" y1="1060" x2="1977" y2="1060" class="ul"/>
<text class="bs" x="1910" y="1070">SCALE: HALF ACTUAL SIZE</text>

<!-- ================= SECTION 2-2 ================= -->
<rect x="1650" y="690" width="17" height="80" class="hat1"/>
<rect x="1667" y="690" width="7" height="80" fill="#fff" stroke="#111" stroke-width="1.2"/>
<rect x="1674" y="690" width="9" height="80" class="hat1"/>
<rect x="1683" y="690" width="7" height="80" fill="#fff" stroke="#111" stroke-width="2"/>
<path d="M1650,690 H1663 L1666,676 L1670,704 L1673,690 H1690" fill="#fff" stroke="#111" stroke-width="1"/>
<path class="hat1" d="M1607,770 H1690 V997 H1657 V806 H1607 Z"/>
<line x1="1607" y1="770" x2="1690" y2="770" stroke="#111" stroke-width="2.5"/>
<rect x="1690" y="830" width="12" height="167" class="hat"/>
<path class="hat" d="M1690,795 Q1700,792 1703,800 Q1713,802 1715,812 Q1719,822 1712,830 L1704,836 H1690 Z"/>
<line x1="1690" y1="690" x2="1690" y2="997" stroke="#111" stroke-width="2"/>
<line x1="1623" y1="998" x2="1728" y2="998" stroke="#111" stroke-width="3"/>
<text class="t" x="1728" y="734">M41</text><path d="M1686,715 L1705,730 L1725,730" class="k"/>
<text class="t" x="1728" y="820">M23</text>
<text class="b" x="1676" y="1039">SECTION 2-2</text><line x1="1611" y1="1041" x2="1742" y2="1041" class="ul"/>
<text class="bs" x="1676" y="1050">SCALE: HALF ACTUAL SIZE</text>

<!-- ================= SECTION B-B ================= -->
<line x1="87" y1="902" x2="174" y2="902" stroke="#111" stroke-width="2"/>
<g stroke="#333" stroke-width="1"><line x1="109" y1="902" x2="134" y2="878"/><line x1="149" y1="902" x2="183" y2="866"/><line x1="186" y1="902" x2="200" y2="888"/></g>
<line x1="216" y1="853" x2="216" y2="902" stroke="#111" stroke-width="2"/>
<rect x="239" y="853" width="15" height="49" class="hat1"/>
<rect x="174" y="902" width="226" height="15" class="hat"/>
<rect x="297" y="917" width="103" height="14" class="hat1"/>
<line x1="297" y1="933" x2="400" y2="933" stroke="#111" stroke-width="2"/><line x1="297" y1="937" x2="400" y2="937" stroke="#111" stroke-width="1"/>
<path class="hat" d="M196,917 H297 V952 L247,967 L196,952 Z"/>
<path d="M174,917 Q172,945 194,965 M297,940 L319,943 Q316,957 301,965" class="k"/>
<path d="M149,902 V967 H400 V937" class="k"/>
<path d="M400,925 L415,929 L400,933" fill="#fff" stroke="#111" stroke-width="1"/>
<text x="348" y="929" font-size="8" fill="#222" text-anchor="middle" stroke="#fff" stroke-width="2" paint-order="stroke">M41</text>
<line x1="676" y1="902" x2="760" y2="902" stroke="#111" stroke-width="2"/>
<g stroke="#333" stroke-width="1"><line x1="688" y1="902" x2="718" y2="870"/><line x1="722" y1="902" x2="748" y2="874"/><line x1="650" y1="880" x2="675" y2="853"/></g>
<line x1="631" y1="853" x2="631" y2="902" stroke="#111" stroke-width="2"/>
<rect x="596" y="853" width="15" height="49" class="hat1"/>
<rect x="468" y="902" width="208" height="15" class="hat"/>
<rect x="468" y="917" width="85" height="14" class="hat1"/>
<line x1="468" y1="933" x2="553" y2="933" stroke="#111" stroke-width="2"/><line x1="468" y1="937" x2="553" y2="937" stroke="#111" stroke-width="1"/>
<path class="hat" d="M553,917 H654 V952 L602,967 L553,952 Z"/>
<path d="M676,917 Q678,945 656,965 M553,940 L531,943 Q534,957 549,965" class="k"/>
<path d="M701,902 V967 H468 V937" class="k"/>
<path d="M468,925 L453,929 L468,933" fill="#fff" stroke="#111" stroke-width="1"/>
<text x="506" y="929" font-size="8" fill="#222" text-anchor="middle" stroke="#fff" stroke-width="2" paint-order="stroke">M41</text>
<g class="rl">
<line x1="174" y1="880" x2="174" y2="902"/><line x1="196" y1="880" x2="196" y2="917"/><line x1="297" y1="880" x2="297" y2="917"/><line x1="168" y1="891" x2="300" y2="891"/>
<line x1="120" y1="917" x2="196" y2="917"/><line x1="120" y1="952" x2="196" y2="952"/><line x1="120" y1="967" x2="149" y2="967"/><line x1="129" y1="910" x2="129" y2="980"/>
<line x1="553" y1="885" x2="553" y2="917"/><line x1="654" y1="885" x2="654" y2="917"/><line x1="548" y1="897" x2="660" y2="897"/>
<line x1="654" y1="917" x2="712" y2="917"/><line x1="654" y1="952" x2="712" y2="952"/><line x1="701" y1="967" x2="712" y2="967"/><line x1="705" y1="910" x2="705" y2="980"/>
</g>
<g class="r">
<text x="185" y="887">27</text><text x="185" y="895">[1"]</text>
<text x="245" y="887">117</text><text x="245" y="895">[4 5/8"]</text>
<text x="129" y="931">38</text><text x="129" y="939">[1 1/2"]</text>
<text x="114" y="957">18</text><text x="114" y="965">[3/4"]</text>
<text x="603" y="894">117</text><text x="603" y="902">[4 5/8"]</text>
<text x="690" y="931">38</text><text x="690" y="939">[1 1/2"]</text>
<text x="712" y="957">18</text><text x="712" y="965">[3/4"]</text>
</g>
<text class="b" x="432" y="993">SECTION B-B</text><line x1="367" y1="995" x2="498" y2="995" class="ul"/>
<text class="bs" x="432" y="1004">SCALE: HALF ACTUAL SIZE</text>

<!-- ================= ACCESS DOOR DETAIL ================= -->
<rect x="174" y="1013" width="42" height="112" fill="url(#h)"/>
<line x1="216" y1="1013" x2="216" y2="1125" stroke="#111" stroke-width="2"/>
<rect x="118" y="1120" width="56" height="6" fill="url(#h)"/>
<line x1="118" y1="1126" x2="174" y2="1126" stroke="#111" stroke-width="1"/>
<path class="hat" d="M239,1060 H400 V1090 H254 V1128 H239 Z"/>
<path d="M254,1128 H400 V1090" class="k"/>
<path d="M400,1078 L415,1083 L400,1090" fill="#fff" stroke="#111" stroke-width="1"/>
<rect x="174" y="1128" width="146" height="17" class="hat"/>
<use href="#mold" class="hat"/>
<path d="M174,1145 Q180,1250 194,1350" fill="none" stroke="#111" stroke-width="1"/>
<path class="hat" d="M468,1060 H611 V1128 H596 V1090 H468 Z"/>
<path d="M596,1128 H468 V1090" class="k"/>
<path d="M468,1078 L453,1083 L468,1090" fill="#fff" stroke="#111" stroke-width="1"/>
<rect x="631" y="1013" width="35" height="112" fill="url(#h)"/>
<line x1="631" y1="1013" x2="631" y2="1125" stroke="#111" stroke-width="2"/>
<rect x="666" y="1120" width="81" height="6" fill="url(#h)"/>
<line x1="666" y1="1126" x2="747" y2="1126" stroke="#111" stroke-width="1"/>
<rect x="633" y="1122" width="44" height="7" fill="#111"/>
<rect x="529" y="1128" width="148" height="17" class="hat"/>
<use href="#mold" class="hat" transform="translate(357,0)"/>
<g fill="none" stroke="#111" stroke-width="1">
<line x1="550" y1="1158" x2="468" y2="1238"/>
<line x1="590" y1="1163" x2="468" y2="1285"/>
<path d="M590,1163 L618,1188 L573,1233 L582,1244 L598,1228 L617,1245 L623,1238"/>
<path d="M623,1236 l4,-2 l2,-4 l4,-2 l2,-4 l4,-2 l2,-4 l4,-2 l2,-4 l4,-2 l2,-4 l4,-2 l2,-4 l4,-2 l2,-4 l4,-2 l2,-4 l4,-2 l2,-4"/>
<path d="M613,1160 L632,1176 L648,1162"/>
<path d="M673,1153 L687,1140 L682,1129 M672,1156 L687,1172 L676,1182"/>
<line x1="607" y1="1193" x2="607" y2="1349"/><line x1="637" y1="1212" x2="637" y2="1349"/>
<line x1="607" y1="1193" x2="677" y2="1193"/><line x1="637" y1="1212" x2="677" y2="1212"/>
<path d="M677,1129 H692 V1152 H713 V1158 q-5,4 0,8 q-5,4 0,8 q-5,4 0,8 q-5,4 0,8 q-5,4 0,8 q-5,4 0,8 q-5,4 0,8 q-5,4 0,8 q-5,4 0,8 q-5,4 0,8 L717,1238 V1253 H692 V1277 H677 Z"/>
</g>
<text class="t" x="710" y="1093">PIANO HINGE TO</text><text class="t" x="710" y="1102">FULL HEIGHT</text>
<path d="M670,1122 L690,1090 L708,1090" class="k"/>
<text class="b" x="433" y="1323">ACCESS DOOR DETAIL</text><line x1="372" y1="1325" x2="494" y2="1325" class="ul"/>
<text class="bs" x="433" y="1334">SCALE: HALF ACTUAL SIZE</text>

<!-- ================= ACCESS DOOR HEADER DETAIL ================= -->
<polygon points="849,916 1015,839 1015,983 849,983" fill="url(#h)"/>
<line x1="1015" y1="839" x2="1015" y2="983" stroke="#111" stroke-width="1"/>
<path class="hat" d="M1015,902 H1034 Q1050,902 1062,912 Q1070,922 1064,932 Q1056,940 1050,946 Q1044,956 1054,968 Q1058,978 1048,983 L1040,990 H1015 Z"/>
<line x1="1030" y1="902" x2="1030" y2="983" stroke="#111" stroke-width="1"/>
<line x1="849" y1="983" x2="1015" y2="983" stroke="#111" stroke-width="2"/>
<path class="hat" d="M885,983 H1036 V998 H929 V1019 H885 Z"/>
<rect x="929" y="1002" width="30" height="350" class="hat"/>
<path class="hat" d="M959,1002 H1031 V1180 H1015 V1171 H976 V1352 H959 Z"/>
<rect x="976" y="1017" width="39" height="140" fill="#fff" stroke="#111" stroke-width="2"/>
<rect x="976" y="1171" width="39" height="181" fill="#fff" stroke="#111" stroke-width="1.5"/>
<path class="hat" d="M1031,1040 H1047 V1046 q6,4 0,8 q6,4 0,8 q6,4 0,8 q6,4 0,8 q6,4 0,8 q6,4 0,8 q6,4 0,8 q6,4 0,8 q6,4 0,8 q6,4 0,8 q6,4 0,8 V1141 H1031 Z"/>
<path d="M1054,1040 H1070 L1079,1092 L1070,1141 H1054 M1054,1040 L1057,1092 L1054,1141" fill="none" stroke="#111" stroke-width="1"/>
<g fill="none" stroke="#111" stroke-width="1"><line x1="1015" y1="1180" x2="1015" y2="1352"/><line x1="1031" y1="1180" x2="1031" y2="1352"/><line x1="1054" y1="1241" x2="1054" y2="1352"/><line x1="929" y1="1352" x2="1054" y2="1352"/></g>
<rect x="1031" y="1180" width="46" height="7" fill="#fff" stroke="#111" stroke-width="1"/>
<text x="1033" y="1185.5" font-size="4" fill="#333">ATCACA20B</text>
<g fill="none" stroke="#111" stroke-width="1.3"><path d="M1041,1241 Q1030,1232 1034,1216 Q1040,1200 1058,1202 Q1068,1196 1066,1188 Q1078,1192 1076,1208 Q1082,1230 1068,1241 Z"/><circle cx="1054" cy="1222" r="12"/><circle cx="1055" cy="1222" r="7"/><circle cx="1056" cy="1222" r="3"/></g>
<path d="M989,1352 L993,1337 L996,1367 L1000,1352" fill="#fff" stroke="#111" stroke-width="1"/>
<text class="t" x="745" y="1033">DOOR HEADER JAMB</text>
<path d="M833,1030 L850,1030 L885,1001" class="k"/>
<circle cx="885" cy="1001" r="1.5" fill="#111"/>
<text class="b" x="998" y="1386">ACCESS DOOR HEADER DETAIL</text><line x1="912" y1="1388" x2="1085" y2="1388" class="ul"/>
<text class="bs" x="998" y="1397">SCALE: HALF ACTUAL SIZE</text>

<!-- ================= ISOMETRIC ================= -->
<polygon points="1292,890 1452,835 1470,838 1470,1300 1320,1392 1292,1384" fill="#e6e6e6" stroke="#777" stroke-width="1"/>
<line x1="1313" y1="884" x2="1313" y2="1390" stroke="#999" stroke-width="1"/>
<polygon points="1338,940 1474,893 1474,1297 1338,1345" fill="#a7a7a7"/>
<polygon points="1450,902 1474,893 1474,1297 1450,1305" fill="#ececec"/>
<g fill="#e8e8e8" stroke="#555" stroke-width="0.6">
<polygon points="1338,945 1474,898 1474,920 1338,966"/>
<polygon points="1338,986 1474,940 1474,961 1338,1007"/>
<polygon points="1338,1027 1474,981 1474,1002 1338,1048"/>
<polygon points="1338,1069 1474,1023 1474,1044 1338,1090"/>
<polygon points="1338,1113 1474,1067 1474,1088 1338,1134"/>
<polygon points="1338,1163 1474,1117 1474,1138 1338,1184"/>
<polygon points="1338,1213 1474,1167 1474,1188 1338,1234"/>
<polygon points="1338,1264 1474,1218 1474,1239 1338,1285"/>
<polygon points="1338,1312 1474,1266 1474,1287 1338,1333"/>
</g>
<g stroke="#555" stroke-width="1.6"><line x1="1338" y1="966" x2="1474" y2="920"/><line x1="1338" y1="1007" x2="1474" y2="961"/><line x1="1338" y1="1048" x2="1474" y2="1002"/><line x1="1338" y1="1090" x2="1474" y2="1044"/><line x1="1338" y1="1134" x2="1474" y2="1088"/><line x1="1338" y1="1184" x2="1474" y2="1138"/><line x1="1338" y1="1234" x2="1474" y2="1188"/><line x1="1338" y1="1285" x2="1474" y2="1239"/></g>
<polygon points="1318,906 1497,850 1497,878 1318,935" fill="#d8d8d8" stroke="#444" stroke-width="1"/>
<polygon points="1339,914 1478,867 1478,878 1339,927" fill="#2a2a2a"/>
<polygon points="1339,919 1478,871 1478,873 1339,921" fill="#666"/>
<rect x="1321" y="913" width="16" height="17" fill="#ddd" stroke="#444" stroke-width="0.8"/>
<path d="M1321,913 L1337,930 M1337,913 L1321,930" stroke="#444" stroke-width="0.8"/>
<rect x="1479" y="857" width="16" height="17" fill="#ddd" stroke="#444" stroke-width="0.8"/>
<path d="M1479,857 L1495,874 M1495,857 L1479,874" stroke="#444" stroke-width="0.8"/>
<polygon points="1310,886 1500,826 1504,830 1502,842 1498,850 1313,910 1309,902" fill="#1e1e1e"/>
<polygon points="1312,898 1502,838 1502,843 1312,904" fill="#777"/>
<path d="M1318,937 H1342 V948 Q1330,954 1318,952 Z" fill="#ececec" stroke="#444" stroke-width="0.8"/>
<path d="M1475,881 H1497 V892 Q1486,898 1475,896 Z" fill="#ececec" stroke="#444" stroke-width="0.8"/>
<rect x="1320" y="952" width="19" height="393" fill="#1b1b1b"/>
<line x1="1324" y1="952" x2="1324" y2="1345" stroke="#aaa" stroke-width="0.8"/>
<line x1="1333" y1="952" x2="1333" y2="1345" stroke="#555" stroke-width="0.8"/>
<rect x="1477" y="896" width="19" height="401" fill="#1b1b1b"/>
<line x1="1481" y1="896" x2="1481" y2="1297" stroke="#aaa" stroke-width="0.8"/>
<line x1="1490" y1="896" x2="1490" y2="1297" stroke="#555" stroke-width="0.8"/>
<polygon points="1311,1345 1503,1288 1504,1300 1311,1360" fill="#222"/>
<polygon points="1312,1351 1503,1294 1503,1296 1312,1353" fill="#888"/>
<polygon points="1314,1360 1500,1302 1500,1332 1314,1392" fill="#a0a0a0" stroke="#555" stroke-width="0.8"/>
<polygon points="1314,1360 1322,1358 1322,1390 1314,1392" fill="#d8d8d8"/>

<!-- ================= SECTION 1-1 ================= -->
<rect x="1748" y="1144" width="147" height="15" class="hat"/>
<path class="hat" d="M1770,1159 H1872 V1183 H1866 L1863,1177 q-4,-6 -8,0 q-4,-6 -8,0 q-4,-6 -8,0 q-4,-6 -8,0 q-4,-6 -8,0 q-4,-6 -8,0 q-4,-6 -8,0 q-4,-6 -8,0 q-4,-6 -8,0 q-4,-6 -8,0 q-4,-6 -8,0 L1778,1183 H1770 Z"/>
<text x="1821" y="1188" font-size="8" fill="#222" text-anchor="middle">M41</text>
<path d="M1770,1170 L1748,1172 L1765,1176 L1732,1180 L1770,1182" fill="#fff" stroke="#111" stroke-width="1"/>
<path d="M1872,1170 L1895,1168 L1880,1174 L1912,1172 L1872,1182" fill="#fff" stroke="#111" stroke-width="1"/>
<rect x="1748" y="1183" width="147" height="25" fill="#fff" stroke="#111" stroke-width="1.5"/>
<line x1="1748" y1="1198" x2="1895" y2="1198" stroke="#111" stroke-width="1"/><line x1="1748" y1="1201" x2="1895" y2="1201" stroke="#111" stroke-width="1"/>
<line x1="1748" y1="1185" x2="1895" y2="1185" stroke="#111" stroke-width="1"/>
<text class="b" x="1830" y="1233">SECTION 1-1</text><line x1="1764" y1="1235" x2="1897" y2="1235" class="ul"/>
<text class="bs" x="1830" y="1245">SCALE: HALF ACTUAL SIZE</text>

<!-- ================= TITLE BLOCK ================= -->
<rect x="1756" y="1273" width="260" height="23" fill="#fff" stroke="#e31b23" stroke-width="1.5"/>
<text x="1762" y="1283" font-size="5.5" fill="#e31b23" textLength="250" lengthAdjust="spacingAndGlyphs">NOTE:  ALL DRAWINGS ARE PRODUCED IN METRIC. IMPERIAL MEASUREMENTS HAVE BEEN ADDED</text>
<text x="1773" y="1291" font-size="5.5" fill="#e31b23" textLength="226" lengthAdjust="spacingAndGlyphs">FOR REFERENCE ONLY (NOT FOR MEASURING) AND ARE ROUNDED TO THE NEAREST 1/8".</text>
<rect x="1756" y="1296" width="260" height="121" fill="#fff" stroke="#111" stroke-width="1.5"/>
<g stroke="#222" stroke-width="0.9">
<line x1="1756" y1="1332" x2="2016" y2="1332"/><line x1="1756" y1="1347" x2="2016" y2="1347"/><line x1="1756" y1="1362" x2="2016" y2="1362"/>
<line x1="1877" y1="1296" x2="1877" y2="1332"/><line x1="1929" y1="1296" x2="1929" y2="1347"/><line x1="1964" y1="1296" x2="1964" y2="1332"/><line x1="1964" y1="1347" x2="1964" y2="1362"/>
<line x1="1825" y1="1362" x2="1825" y2="1417"/><line x1="1912" y1="1362" x2="1912" y2="1417"/>
<line x1="1756" y1="1377" x2="1912" y2="1377"/><line x1="1756" y1="1392" x2="1912" y2="1392"/>
</g>
<g stroke="#333" stroke-width="0.6">
<line x1="1912" y1="1366" x2="2016" y2="1366"/><line x1="1912" y1="1370.5" x2="2016" y2="1370.5"/><line x1="1912" y1="1375" x2="2016" y2="1375"/><line x1="1912" y1="1379.5" x2="2016" y2="1379.5"/><line x1="1912" y1="1384" x2="2016" y2="1384"/><line x1="1912" y1="1388.5" x2="2016" y2="1388.5"/><line x1="1912" y1="1393" x2="2016" y2="1393"/><line x1="1912" y1="1397.5" x2="2016" y2="1397.5"/><line x1="1912" y1="1402" x2="2016" y2="1402"/><line x1="1912" y1="1406.5" x2="2016" y2="1406.5"/><line x1="1912" y1="1411" x2="2016" y2="1411"/>
<line x1="1935" y1="1362" x2="1935" y2="1417"/><line x1="1948" y1="1362" x2="1948" y2="1417"/><line x1="1964" y1="1362" x2="1964" y2="1417"/><line x1="1999" y1="1362" x2="1999" y2="1417"/>
</g>
<path d="M1762,1315 Q1768,1300 1816,1303 Q1864,1300 1872,1315 Q1864,1330 1816,1327 Q1768,1330 1762,1315 Z" fill="none" stroke="#333" stroke-width="0.9"/>
<text x="1768" y="1320" font-size="15" font-family="Liberation Serif, serif" fill="#222" textLength="96" lengthAdjust="spacing">WATERLOO</text>
<path d="M1790,1326 Q1816,1334 1842,1326" fill="none" stroke="#333" stroke-width="0.8"/>
<text class="tb" x="1879" y="1302">PRODUCTION DESIGNER</text>
<text class="tb" x="1879" y="1306" font-weight="bold">WILLS HUGHES-JONES</text>
<text class="tb" x="1879" y="1311">SUPERVISING ART DIRECTOR</text>
<text class="tb" x="1879" y="1316" font-weight="bold">DOMINIC DEVINE</text>
<text class="tb" x="1879" y="1321">CONSTRUCTION MANAGER</text>
<text class="tb" x="1931" y="1300">SET No.</text>
<text x="1946" y="1321" font-size="9" fill="#666" text-anchor="middle">SWC38</text>
<text class="tb" x="1966" y="1300">DRAWING No.</text>
<text x="1990" y="1322" font-size="15" fill="#333" text-anchor="middle">017</text>
<text class="tb" x="1758" y="1336">SET</text>
<text x="1764" y="1343" font-size="6" fill="#444">WILLS  GENTLEMAN'S  CLUB</text>
<text class="tb" x="1931" y="1336">LOCATION/STAGE</text>
<text x="1973" y="1344" font-size="5.5" fill="#444" text-anchor="middle">SWC</text>
<text class="tb" x="1758" y="1351">DETAIL</text>
<text x="1764" y="1358" font-size="6" fill="#444">BOOKCASE  PLANS  SECTIONS , ELEVATIONS  AND  DETAILS</text>
<text class="tb" x="1966" y="1351">SCALE</text>
<text x="2014" y="1358" font-size="5.5" fill="#444" text-anchor="end">1:10 &amp; FS @A0</text>
<text class="tb" x="1758" y="1366">DRAWN BY</text><text x="1797" y="1373" font-size="5.5" fill="#444" text-anchor="middle">PY</text>
<text class="tb" x="1827" y="1366">DATE DRAWN</text><text x="1869" y="1373" font-size="5.5" fill="#444" text-anchor="middle">14/12/20</text>
<text class="tb" x="1758" y="1381">DATE ISSUED</text><text x="1795" y="1389" font-size="5.5" fill="#444" text-anchor="middle">16/10/2020</text>
<text class="tb" x="1827" y="1381">SUPERSEDED DRAWING No.</text>
<text class="tb" x="1758" y="1396">SUPERVISING ART DIRECTOR APPROVAL</text>
<text class="tb" x="1827" y="1396">ISSUED TO</text>
<text class="tb" x="1913" y="1369.5">CONST MANAGER</text><text class="tb" x="1913" y="1374">CARPENTERS</text><text class="tb" x="1913" y="1378.5">PLASTERERS</text><text class="tb" x="1913" y="1383">RIGGERS</text><text class="tb" x="1913" y="1387.5">PAINTERS</text><text class="tb" x="1913" y="1392">METAL</text><text class="tb" x="1913" y="1396.5">GREENS</text><text class="tb" x="1913" y="1401">SCENIC ARTIST</text><text class="tb" x="1913" y="1405.5">SCULPTORS</text><text class="tb" x="1913" y="1410">SFX</text>
<text class="tb" x="1965" y="1369.5">PROPS</text><text class="tb" x="1965" y="1374">DRAPES</text><text class="tb" x="1965" y="1378.5">PRACTICAL</text><text class="tb" x="1965" y="1383">VFX</text><text class="tb" x="1965" y="1387.5">CAMERA</text><text class="tb" x="1965" y="1392">ELECTRICAL</text><text class="tb" x="1965" y="1396.5">DIRECTOR</text><text class="tb" x="1965" y="1401">HEALTH &amp; SAFETY</text><text class="tb" x="1965" y="1405.5">LOCATIONS</text><text class="tb" x="1965" y="1410">PRODUCTION</text>
</svg>
</body></html>
